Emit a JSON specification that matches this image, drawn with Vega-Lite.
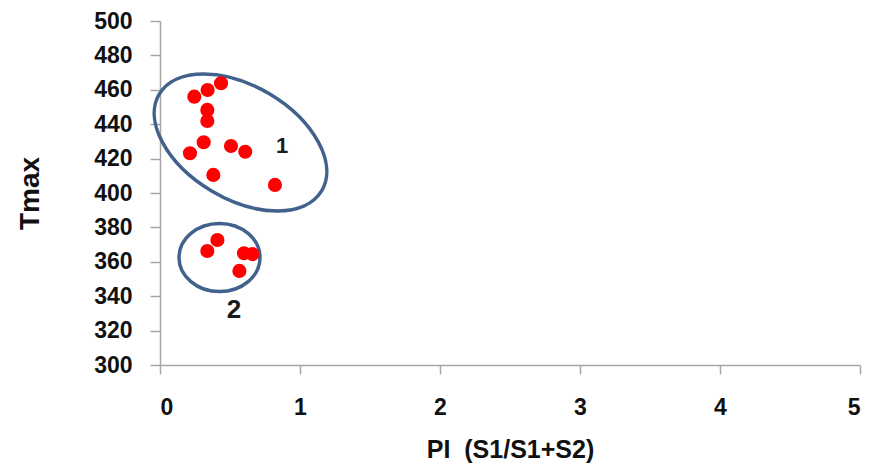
{
  "$schema": "https://vega.github.io/schema/vega-lite/v6.json",
  "autosize": {"type": "none"},
  "padding": {"left": 160, "top": 21, "right": 9, "bottom": 103},
  "width": 700,
  "height": 344,
  "background": "white",
  "config": {
    "view": {"stroke": null},
    "font": "Liberation Sans",
    "axis": {
      "grid": false,
      "domainColor": "#A6A6A6",
      "domainWidth": 1.5,
      "tickColor": "#A6A6A6",
      "tickWidth": 1.5,
      "labelFont": "Liberation Sans",
      "labelFontWeight": "bold",
      "labelColor": "#111111",
      "labelFontSize": 23,
      "titleFont": "Liberation Sans",
      "titleFontWeight": "bold",
      "titleColor": "#111111"
    }
  },
  "datasets": {
    "samples": [
      {"PI": 0.436, "Tmax": 463.8},
      {"PI": 0.340, "Tmax": 459.9},
      {"PI": 0.245, "Tmax": 456.0},
      {"PI": 0.338, "Tmax": 448.3},
      {"PI": 0.338, "Tmax": 441.9},
      {"PI": 0.312, "Tmax": 429.5},
      {"PI": 0.214, "Tmax": 423.1},
      {"PI": 0.507, "Tmax": 427.3},
      {"PI": 0.609, "Tmax": 424.0},
      {"PI": 0.381, "Tmax": 410.5},
      {"PI": 0.821, "Tmax": 404.7},
      {"PI": 0.410, "Tmax": 372.7},
      {"PI": 0.338, "Tmax": 366.3},
      {"PI": 0.600, "Tmax": 365.0},
      {"PI": 0.660, "Tmax": 364.5},
      {"PI": 0.567, "Tmax": 354.7}
    ],
    "groups": [
      {"PI": 0.575, "Tmax": 429.4, "group": "1", "labelPI": 0.872, "labelTmax": 427.6},
      {"PI": 0.425, "Tmax": 362.5, "group": "2", "labelPI": 0.529, "labelTmax": 332.0}
    ]
  },
  "encoding": {
    "x": {
      "field": "PI",
      "type": "quantitative",
      "scale": {"domain": [0, 5], "nice": false},
      "axis": {
        "values": [0, 1, 2, 3, 4, 5],
        "tickSize": 9,
        "labelPadding": 22,
        "title": "PI\u00a0 (S1/S1+S2)",
        "titleFontSize": 25,
        "titlePadding": 18
      }
    },
    "y": {
      "field": "Tmax",
      "type": "quantitative",
      "scale": {"domain": [300, 500], "nice": false, "zero": false},
      "axis": {
        "values": [300, 320, 340, 360, 380, 400, 420, 440, 460, 480, 500],
        "tickSize": 10,
        "labelPadding": 18,
        "title": "Tmax",
        "titleFontSize": 28,
        "titlePadding": 49
      }
    }
  },
  "layer": [
    {
      "data": {"name": "groups"},
      "transform": [{"filter": "datum.group == '1'"}],
      "mark": {
        "type": "point",
        "filled": false,
        "shape": "M0.8599,0.5105C0.6913,0.7945,0.1696,0.7962,-0.3053,0.5142C-0.7802,0.2322,-1.0285,-0.2265,-0.8599,-0.5105C-0.6913,-0.7945,-0.1696,-0.7962,0.3053,-0.5142C0.7802,-0.2322,1.0285,0.2265,0.8599,0.5105Z",
        "size": 35721,
        "stroke": "#41628C",
        "strokeWidth": 3.5,
        "opacity": 1
      }
    },
    {
      "data": {"name": "groups"},
      "transform": [{"filter": "datum.group == '2'"}],
      "mark": {
        "type": "point",
        "filled": false,
        "shape": "M1,0C1,0.465,0.5523,0.842,0,0.842C-0.5523,0.842,-1,0.465,-1,0C-1,-0.465,-0.5523,-0.842,0,-0.842C0.5523,-0.842,1,-0.465,1,0Z",
        "size": 6561,
        "stroke": "#41628C",
        "strokeWidth": 3.5,
        "opacity": 1
      }
    },
    {
      "data": {"name": "samples"},
      "mark": {"type": "circle", "size": 200, "color": "#FF0000", "opacity": 1}
    },
    {
      "data": {"name": "groups"},
      "transform": [{"filter": "datum.group == '1'"}],
      "mark": {"type": "text", "fontSize": 22, "fontWeight": "bold", "color": "#1a1a1a", "align": "center", "baseline": "middle"},
      "encoding": {
        "x": {"field": "labelPI", "type": "quantitative"},
        "y": {"field": "labelTmax", "type": "quantitative"},
        "text": {"field": "group"}
      }
    },
    {
      "data": {"name": "groups"},
      "transform": [{"filter": "datum.group == '2'"}],
      "mark": {"type": "text", "fontSize": 26, "fontWeight": "bold", "color": "#1a1a1a", "align": "center", "baseline": "middle"},
      "encoding": {
        "x": {"field": "labelPI", "type": "quantitative"},
        "y": {"field": "labelTmax", "type": "quantitative"},
        "text": {"field": "group"}
      }
    }
  ]
}
